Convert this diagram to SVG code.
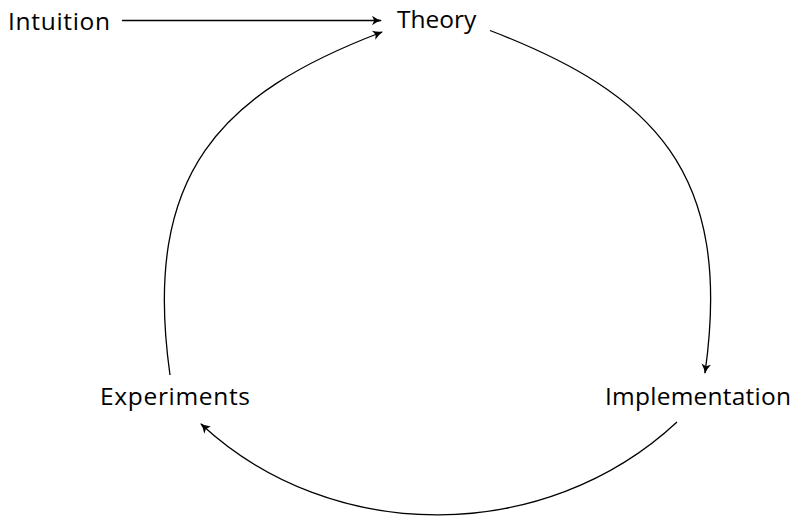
<svg xmlns="http://www.w3.org/2000/svg" width="798" height="521" viewBox="0 0 798 521">
  <style>
    .lbl { font-family: "Open Sans", "Liberation Sans", sans-serif; font-size: 24.5px; fill: #000; }
    .edge { fill: none; stroke: #000; stroke-width: 1.3; marker-end: url(#arr); }
  </style>
  <defs>
    <marker id="arr" markerUnits="userSpaceOnUse" viewBox="-11 -6 13 12" refX="0" refY="0" markerWidth="13" markerHeight="12" orient="auto">
      <path d="M1,0 Q-4.5,-1.3 -9,-4.8 L-6.8,0 L-9,4.8 Q-4.5,1.3 1,0 Z" fill="#000"/>
    </marker>
  </defs>
  <rect width="798" height="521" fill="#fff"/>
  <g id="connectors">
    <path class="edge" d="M122,20.5 L381,20.5"/>
    <path class="edge" d="M490,30.5 C653.4,93.2 733.5,172 705,373"/>
    <path class="edge" d="M677,422 C545,545 332,546 201,424"/>
    <path class="edge" d="M170,375 C141.5,172 221.6,93.2 382,32"/>
  </g>
  <g id="intuition"><text class="lbl" x="8" y="30" textLength="102" lengthAdjust="spacing">Intuition</text></g>
  <g id="theory"><text class="lbl" x="397" y="28">Theory</text></g>
  <g id="implementation"><text class="lbl" x="605" y="405" textLength="186" lengthAdjust="spacing">Implementation</text></g>
  <g id="experiments"><text class="lbl" x="100" y="405" textLength="150" lengthAdjust="spacing">Experiments</text></g>
</svg>
